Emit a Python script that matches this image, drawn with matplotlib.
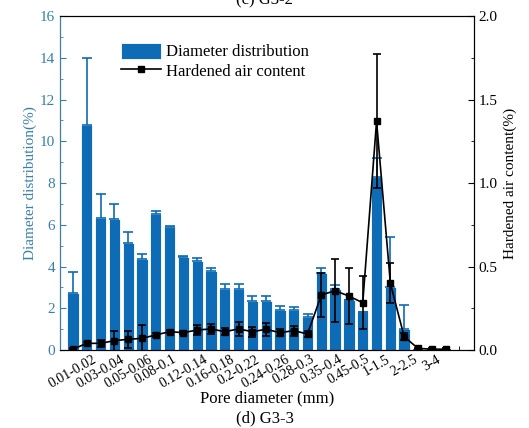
import matplotlib
matplotlib.use("Agg")
import matplotlib.pyplot as plt
import numpy as np
from matplotlib.ticker import MultipleLocator, FormatStrFormatter
from matplotlib.lines import Line2D

plt.rcParams["font.family"] = ["Liberation Serif", "DejaVu Serif"]

categories = [
    "0.01-0.02", "0.02-0.03", "0.03-0.04", "0.04-0.05", "0.05-0.06", "0.06-0.08",
    "0.08-0.1", "0.1-0.12", "0.12-0.14", "0.14-0.16", "0.16-0.18", "0.18-0.2",
    "0.2-0.22", "0.22-0.24", "0.24-0.26", "0.26-0.28", "0.28-0.3", "0.3-0.35",
    "0.35-0.4", "0.4-0.45", "0.45-0.5", "0.5-1", "1-1.5", "1.5-2",
    "2-2.5", "2.5-3", "3-4", "4-5",
]
diameter_dist = [2.72, 10.8, 6.31, 6.26, 5.11, 4.34, 6.50, 5.91, 4.47, 4.26,
                 3.78, 2.92, 2.92, 2.35, 2.35, 1.92, 1.92, 1.57, 3.67, 2.91,
                 2.40, 1.80, 8.30, 3.00, 0.99, 0.0, 0.0, 0.0]
diameter_err = [1.03, 3.2, 1.15, 0.73, 0.53, 0.24, 0.16, 0.04, 0.05, 0.13,
                0.13, 0.23, 0.23, 0.25, 0.25, 0.20, 0.16, 0.15, 0.24, 0.20,
                0.0, 0.0, 0.9, 2.43, 1.17, 0.0, 0.0, 0.0]
air_content = [0.005, 0.04, 0.04, 0.056, 0.064, 0.07, 0.09, 0.11, 0.104, 0.12,
               0.126, 0.11, 0.126, 0.11, 0.124, 0.104, 0.116, 0.096, 0.33, 0.355,
               0.323, 0.283, 1.37, 0.40, 0.08, 0.01, 0.005, 0.005]
air_err = [0.005, 0.01, 0.02, 0.06, 0.05, 0.08, 0.01, 0.01, 0.01, 0.03,
           0.03, 0.02, 0.04, 0.03, 0.04, 0.02, 0.03, 0.02, 0.13, 0.19,
           0.17, 0.16, 0.40, 0.12, 0.02, 0.005, 0.005, 0.01]

bar_color = "#0e6bb5"
axis_blue = "#3b7fa8"

x = np.arange(len(categories))

fig = plt.figure(figsize=(5.29, 4.28), dpi=100)
ax = fig.add_axes([0.1134, 0.1822, 0.7826, 0.7804])

ax.bar(x, diameter_dist, width=0.82, color=bar_color, edgecolor="white", linewidth=0.6,
       label="Diameter distribution", zorder=2)
ax.errorbar(x, diameter_dist, yerr=[np.zeros(len(x)), diameter_err], fmt="none",
            ecolor=bar_color, elinewidth=1.2, capsize=3.5, capthick=1.2, zorder=3)

ax.set_xlim(-0.94, 29.06)
ax.set_ylim(0, 16)
ax.yaxis.set_major_locator(MultipleLocator(2))
ax.yaxis.set_minor_locator(MultipleLocator(1))
ax.set_xticks(x[::2])
ax.set_xticklabels(categories[::2], rotation=30, ha="center", fontsize=10)
ax.set_xticks(np.arange(len(categories) + 1), minor=True)
ax.tick_params(axis="x", which="both", direction="in", length=3, pad=2)
ax.tick_params(axis="y", which="major", direction="in", length=4, colors=axis_blue, labelsize=11)
ax.tick_params(axis="y", which="minor", direction="in", length=2, colors=axis_blue)
ax.spines["left"].set_color(axis_blue)
ax.set_ylabel("Diameter distribution(%)", color=axis_blue, fontsize=11, labelpad=2)
ax.set_xlabel("Pore diameter (mm)", fontsize=12, labelpad=0)

ax2 = ax.twinx()
ax2.errorbar(x, air_content, yerr=air_err, color="black", marker="s", markersize=4.5,
             linewidth=1.2, elinewidth=1.2, capsize=3, capthick=1.2)
ax2.set_ylim(0, 2.0)
ax2.yaxis.set_major_locator(MultipleLocator(0.5))
ax2.yaxis.set_minor_locator(MultipleLocator(0.25))
ax2.tick_params(axis="y", which="major", direction="in", length=4, labelsize=11)
ax2.tick_params(axis="y", which="minor", direction="in", length=2)
ax2.yaxis.set_major_formatter(FormatStrFormatter("%.1f"))
ax2.set_ylabel("Hardened air content(%)", fontsize=11, labelpad=4)
ax2.spines["left"].set_color(axis_blue)

h1, l1 = ax.get_legend_handles_labels()
air_handle = Line2D([], [], color="black", marker="s", markersize=4.5, linewidth=1.2)
ax2.legend(h1 + [air_handle], l1 + ["Hardened air content"], loc="upper left",
           bbox_to_anchor=(0.12, 0.955), frameon=False, fontsize=12,
           handlelength=2.4, handleheight=1.1, handletextpad=0.3, borderpad=0.2,
           labelspacing=0.1)

fig.text(0.5, 1.0, "(c) G3-2", ha="center", va="center", fontsize=12)
fig.text(0.5, 0.023, "(d) G3-3", ha="center", va="center", fontsize=12)

fig.savefig("out.png", dpi=100)
